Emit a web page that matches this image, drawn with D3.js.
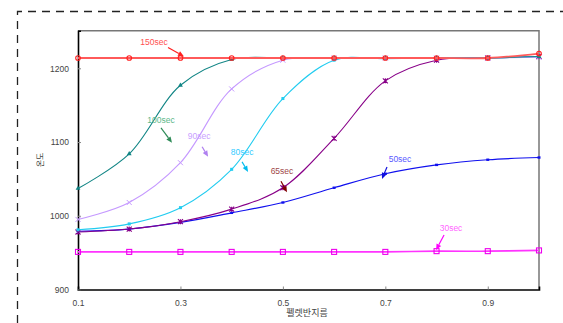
<!DOCTYPE html>
<html>
<head>
<meta charset="utf-8">
<script src="https://cdn.jsdelivr.net/npm/d3@7"></script>
<style>
  html, body { margin: 0; padding: 0; background: #fff; }
  svg { display: block; font-family: "Liberation Sans", Arial, sans-serif; }
</style>
</head>
<body>
<svg id="chart" width="563" height="323"></svg>
<script>
// Pellet radius (x) and temperature (y) for each heating time
const radius = [0.1, 0.2, 0.3, 0.4, 0.5, 0.6, 0.7, 0.8, 0.9, 1.0];
const t150 = [1214, 1214, 1214, 1214, 1214, 1214, 1214, 1214, 1214, 1220];
const t100 = [1037, 1084, 1177, 1212, 1214, 1214, 1214, 1214, 1214, 1216];
const t90  = [995, 1018, 1072, 1172, 1211, 1214, 1214, 1214, 1214, 1215];
const t80  = [981, 989, 1011, 1063, 1159, 1211, 1213, 1214, 1214, 1216];
const t65  = [978, 982, 992, 1009, 1038, 1105, 1183, 1211, 1214, 1216];
const t50  = [979, 982, 991, 1004, 1018, 1038, 1057, 1069, 1076, 1079];
const t30  = [951, 951, 951, 951, 951, 951, 951, 952, 952, 953];

const xTicks = [0.1, 0.3, 0.5, 0.7, 0.9];
const yTicks = [900, 1000, 1100, 1200];
const xTitle = "펠렛반지름";
const yTitle = "온도";

const svg = d3.select("#chart");
const W = 563, H = 323;
const m = { left: 78, right: 539, top: 30.7, bottom: 289.5 };

const x = d3.scaleLinear().domain([0.1, 1.0]).range([m.left, m.right]);
const y = d3.scaleLinear().domain([900, 1251]).range([m.bottom, m.top]);

svg.append("rect").attr("width", W).attr("height", H).attr("fill", "#fff");

// dashed outer frame
svg.append("path")
  .attr("d", `M17.5,${H} V11.5 H${W}`)
  .attr("fill", "none").attr("stroke", "#222").attr("stroke-width", 1.3)
  .attr("stroke-dasharray", "8,6");

// plot frame (top/right light, left/bottom dark)
svg.append("path")
  .attr("d", `M${m.left},${m.top} H${m.right} V${m.bottom}`)
  .attr("fill", "none").attr("stroke", "#777").attr("stroke-width", 1.5);

// axes
const xAxis = d3.axisBottom(x).tickValues(xTicks).tickSize(-3).tickPadding(10)
  .tickFormat(d3.format(".1f"));
const yAxis = d3.axisLeft(y).tickValues(yTicks).tickSize(-3).tickPadding(9)
  .tickFormat(d3.format("d"));

const gx = svg.append("g").attr("transform", `translate(0,${m.bottom})`).call(xAxis);
const gy = svg.append("g").attr("transform", `translate(${m.left},0)`).call(yAxis);
[gx, gy].forEach(g => {
  g.select(".domain").attr("stroke", "#000").attr("stroke-width", 1.6);
  g.selectAll(".tick line").attr("stroke", "#888");
  g.selectAll(".tick text").attr("fill", "#444").attr("font-size", 8.5)
    .attr("font-family", "Liberation Sans, Arial, sans-serif");
});

svg.append("text").attr("x", 307).attr("y", 316).attr("text-anchor", "middle")
  .attr("font-size", 9).attr("fill", "#444")
  .attr("font-family", "Noto Sans CJK KR, sans-serif").text(xTitle);
svg.append("text").attr("transform", "translate(43,160) rotate(-90)")
  .attr("text-anchor", "middle").attr("font-size", 8).attr("fill", "#444")
  .attr("font-family", "Noto Sans CJK KR, sans-serif").text(yTitle);

const series = [
  { name: "30sec",  values: t30,  color: "#ff33ff", width: 1.6, marker: "square" },
  { name: "50sec",  values: t50,  color: "#1010ee", width: 1.2, marker: "dot" },
  { name: "65sec",  values: t65,  color: "#880088", width: 1.1, marker: "star" },
  { name: "80sec",  values: t80,  color: "#22ccf0", width: 1.1, marker: "fsquare" },
  { name: "90sec",  values: t90,  color: "#c599ff", width: 1.1, marker: "cross" },
  { name: "100sec", values: t100, color: "#118585", width: 1.1, marker: "tri" },
  { name: "150sec", values: t150, color: "#ff5a5a", width: 1.8, marker: "circle" }
];

const line = d3.line()
  .x((d, i) => x(radius[i]))
  .y(d => y(d))
  .curve(d3.curveCatmullRom.alpha(0.5));

series.forEach(s => {
  const g = svg.append("g");
  g.append("path").attr("d", line(s.values))
    .attr("fill", "none").attr("stroke", s.color).attr("stroke-width", s.width);
  s.values.forEach((v, i) => {
    const cx = x(radius[i]), cy = y(v);
    if (s.marker === "circle") {
      g.append("circle").attr("cx", cx).attr("cy", cy).attr("r", 2.3)
        .attr("fill", "none").attr("stroke", "#ff2020").attr("stroke-width", 1.1);
    } else if (s.marker === "square") {
      g.append("rect").attr("x", cx - 2.5).attr("y", cy - 2.5).attr("width", 5).attr("height", 5)
        .attr("fill", "none").attr("stroke", "#ee00ee").attr("stroke-width", 1.1);
    } else if (s.marker === "fsquare") {
      g.append("rect").attr("x", cx - 1.5).attr("y", cy - 1.5).attr("width", 3).attr("height", 3)
        .attr("fill", s.color);
    } else if (s.marker === "dot") {
      g.append("rect").attr("x", cx - 1.5).attr("y", cy - 1.2).attr("width", 3).attr("height", 2.4)
        .attr("fill", s.color);
    } else if (s.marker === "cross") {
      g.append("path").attr("d", `M${cx-2.5},${cy-2.5}L${cx+2.5},${cy+2.5}M${cx-2.5},${cy+2.5}L${cx+2.5},${cy-2.5}`)
        .attr("stroke", s.color).attr("stroke-width", 1);
    } else if (s.marker === "star") {
      g.append("path").attr("d", `M${cx-2.5},${cy-2.5}L${cx+2.5},${cy+2.5}M${cx-2.5},${cy+2.5}L${cx+2.5},${cy-2.5}M${cx},${cy-2.5}L${cx},${cy+2.5}`)
        .attr("stroke", s.color).attr("stroke-width", 1.1);
    } else if (s.marker === "tri") {
      g.append("path").attr("d", d3.symbol(d3.symbolTriangle, 10)())
        .attr("transform", `translate(${cx},${cy})`).attr("fill", s.color);
    }
  });
});

// callout labels: arrow tip in data units, tail and text offset in px
const callouts = [
  { text: "150sec", r: 0.307, t: 1216,   tail: [-16, -9],  label: [-30, -12], tc: "#ff5050", ac: "#ff2020" },
  { text: "100sec", r: 0.2835, t: 1099,  tail: [-11, -15], label: [-11, -20], tc: "#5cb88a", ac: "#2e8b57" },
  { text: "90sec",  r: 0.354, t: 1080,   tail: [-6, -10],  label: [-9, -18],  tc: "#c9a0ff", ac: "#b080f0" },
  { text: "80sec",  r: 0.432, t: 1059.5, tail: [-6, -10],  label: [-6, -17],  tc: "#33ccff", ac: "#00bbee" },
  { text: "65sec",  r: 0.508, t: 1032,   tail: [-6, -11],  label: [-5, -18],  tc: "#a04848", ac: "#800000" },
  { text: "50sec",  r: 0.6935, t: 1050,  tail: [5, -12],   label: [18, -17],  tc: "#5a5aff", ac: "#1010dd" },
  { text: "30sec",  r: 0.799, t: 953.6,  tail: [8, -15],   label: [15, -19],  tc: "#ff66ff", ac: "#ff00ff" }
];

callouts.forEach(c => {
  const tx = x(c.r), ty = y(c.t);
  const sx = tx + c.tail[0], sy = ty + c.tail[1];
  const ang = Math.atan2(ty - sy, tx - sx);
  const hl = 6, hw = 2.6;
  const bx = tx - hl * Math.cos(ang), by = ty - hl * Math.sin(ang);
  const px = -Math.sin(ang) * hw, py = Math.cos(ang) * hw;
  svg.append("line").attr("x1", sx).attr("y1", sy).attr("x2", bx).attr("y2", by)
    .attr("stroke", c.ac).attr("stroke-width", 1.2);
  svg.append("path").attr("d", `M${tx},${ty}L${bx+px},${by+py}L${bx-px},${by-py}Z`)
    .attr("fill", c.ac);
  svg.append("text").attr("x", tx + c.label[0]).attr("y", ty + c.label[1])
    .attr("text-anchor", "middle").attr("font-size", 8.5).attr("fill", c.tc)
    .text(c.text);
});
</script>
</body>
</html>
